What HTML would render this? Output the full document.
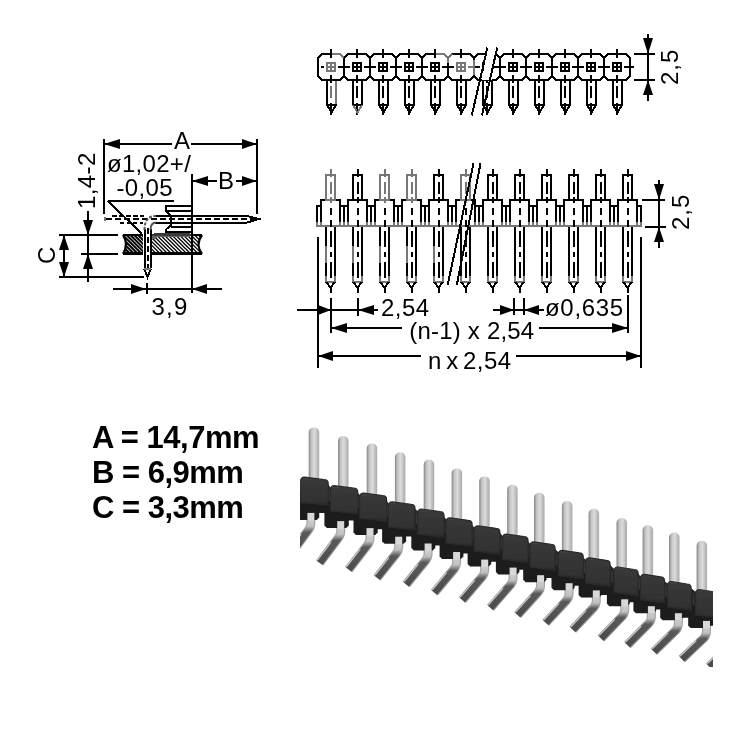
<!DOCTYPE html>
<html><head><meta charset="utf-8"><style>
html,body{margin:0;padding:0;background:#fff;width:732px;height:732px;overflow:hidden}
svg{position:absolute;left:0;top:0}
body{filter:grayscale(1)}
text{font-family:"Liberation Sans",sans-serif}
.t{position:absolute;left:92px;font:bold 31px "Liberation Sans",sans-serif;letter-spacing:-0.5px;white-space:pre;line-height:35px}
</style></head><body>
<svg width="732" height="732" viewBox="0 0 732 732" shape-rendering="crispEdges">
<polygon points="318.00,58.00 322.00,54.00 340.00,54.00 344.00,58.00 344.00,76.00 340.00,80.00 322.00,80.00 318.00,76.00" fill="none" stroke="#000" stroke-width="2" stroke-linejoin="miter"/>
<rect x="327" y="63" width="8" height="8" fill="none" stroke="#000" stroke-width="2"/>
<line x1="331" y1="63" x2="331" y2="71" stroke="#000" stroke-width="2" />
<line x1="327" y1="67" x2="335" y2="67" stroke="#000" stroke-width="2" />
<line x1="331" y1="49" x2="331" y2="58" stroke="#000" stroke-width="2" />
<line x1="331" y1="75" x2="331" y2="83" stroke="#000" stroke-width="2" />
<line x1="338" y1="67" x2="350" y2="67" stroke="#000" stroke-width="2" />
<line x1="321" y1="67" x2="324" y2="67" stroke="#000" stroke-width="2" />
<line x1="327" y1="80" x2="327" y2="106" stroke="#000" stroke-width="2" />
<line x1="336" y1="80" x2="336" y2="106" stroke="#000" stroke-width="2" />
<line x1="331" y1="86" x2="331" y2="98" stroke="#000" stroke-width="2" />
<line x1="331" y1="103" x2="331" y2="115" stroke="#000" stroke-width="2" />
<polyline points="327.00,105.00 331.50,112.50 336.00,105.00" fill="none" stroke="#000" stroke-width="2" />
<line x1="326" y1="105" x2="337" y2="105" stroke="#000" stroke-width="2" />
<polygon points="344.00,58.00 348.00,54.00 366.00,54.00 370.00,58.00 370.00,76.00 366.00,80.00 348.00,80.00 344.00,76.00" fill="none" stroke="#000" stroke-width="2" stroke-linejoin="miter"/>
<rect x="353" y="63" width="8" height="8" fill="none" stroke="#000" stroke-width="2"/>
<line x1="357" y1="63" x2="357" y2="71" stroke="#000" stroke-width="2" />
<line x1="353" y1="67" x2="361" y2="67" stroke="#000" stroke-width="2" />
<line x1="357" y1="49" x2="357" y2="58" stroke="#000" stroke-width="2" />
<line x1="357" y1="75" x2="357" y2="83" stroke="#000" stroke-width="2" />
<line x1="364" y1="67" x2="376" y2="67" stroke="#000" stroke-width="2" />
<line x1="353" y1="80" x2="353" y2="106" stroke="#000" stroke-width="2" />
<line x1="362" y1="80" x2="362" y2="106" stroke="#000" stroke-width="2" />
<line x1="357" y1="86" x2="357" y2="98" stroke="#000" stroke-width="2" />
<line x1="357" y1="103" x2="357" y2="115" stroke="#000" stroke-width="2" />
<polyline points="353.00,105.00 357.50,112.50 362.00,105.00" fill="none" stroke="#000" stroke-width="2" />
<line x1="352" y1="105" x2="363" y2="105" stroke="#000" stroke-width="2" />
<polygon points="370.00,58.00 374.00,54.00 392.00,54.00 396.00,58.00 396.00,76.00 392.00,80.00 374.00,80.00 370.00,76.00" fill="none" stroke="#000" stroke-width="2" stroke-linejoin="miter"/>
<rect x="379" y="63" width="8" height="8" fill="none" stroke="#000" stroke-width="2"/>
<line x1="383" y1="63" x2="383" y2="71" stroke="#000" stroke-width="2" />
<line x1="379" y1="67" x2="387" y2="67" stroke="#000" stroke-width="2" />
<line x1="383" y1="49" x2="383" y2="58" stroke="#000" stroke-width="2" />
<line x1="383" y1="75" x2="383" y2="83" stroke="#000" stroke-width="2" />
<line x1="390" y1="67" x2="402" y2="67" stroke="#000" stroke-width="2" />
<line x1="379" y1="80" x2="379" y2="106" stroke="#000" stroke-width="2" />
<line x1="388" y1="80" x2="388" y2="106" stroke="#000" stroke-width="2" />
<line x1="383" y1="86" x2="383" y2="98" stroke="#000" stroke-width="2" />
<line x1="383" y1="103" x2="383" y2="115" stroke="#000" stroke-width="2" />
<polyline points="379.00,105.00 383.50,112.50 388.00,105.00" fill="none" stroke="#000" stroke-width="2" />
<line x1="378" y1="105" x2="389" y2="105" stroke="#000" stroke-width="2" />
<polygon points="396.00,58.00 400.00,54.00 418.00,54.00 422.00,58.00 422.00,76.00 418.00,80.00 400.00,80.00 396.00,76.00" fill="none" stroke="#000" stroke-width="2" stroke-linejoin="miter"/>
<rect x="405" y="63" width="8" height="8" fill="none" stroke="#000" stroke-width="2"/>
<line x1="409" y1="63" x2="409" y2="71" stroke="#000" stroke-width="2" />
<line x1="405" y1="67" x2="413" y2="67" stroke="#000" stroke-width="2" />
<line x1="409" y1="49" x2="409" y2="58" stroke="#000" stroke-width="2" />
<line x1="409" y1="75" x2="409" y2="83" stroke="#000" stroke-width="2" />
<line x1="416" y1="67" x2="428" y2="67" stroke="#000" stroke-width="2" />
<line x1="405" y1="80" x2="405" y2="106" stroke="#000" stroke-width="2" />
<line x1="414" y1="80" x2="414" y2="106" stroke="#000" stroke-width="2" />
<line x1="409" y1="86" x2="409" y2="98" stroke="#000" stroke-width="2" />
<line x1="409" y1="103" x2="409" y2="115" stroke="#000" stroke-width="2" />
<polyline points="405.00,105.00 409.50,112.50 414.00,105.00" fill="none" stroke="#000" stroke-width="2" />
<line x1="404" y1="105" x2="415" y2="105" stroke="#000" stroke-width="2" />
<polygon points="422.00,58.00 426.00,54.00 444.00,54.00 448.00,58.00 448.00,76.00 444.00,80.00 426.00,80.00 422.00,76.00" fill="none" stroke="#000" stroke-width="2" stroke-linejoin="miter"/>
<rect x="431" y="63" width="8" height="8" fill="none" stroke="#000" stroke-width="2"/>
<line x1="435" y1="63" x2="435" y2="71" stroke="#000" stroke-width="2" />
<line x1="431" y1="67" x2="439" y2="67" stroke="#000" stroke-width="2" />
<line x1="435" y1="49" x2="435" y2="58" stroke="#000" stroke-width="2" />
<line x1="435" y1="75" x2="435" y2="83" stroke="#000" stroke-width="2" />
<line x1="442" y1="67" x2="454" y2="67" stroke="#000" stroke-width="2" />
<line x1="431" y1="80" x2="431" y2="106" stroke="#000" stroke-width="2" />
<line x1="440" y1="80" x2="440" y2="106" stroke="#000" stroke-width="2" />
<line x1="435" y1="86" x2="435" y2="98" stroke="#000" stroke-width="2" />
<line x1="435" y1="103" x2="435" y2="115" stroke="#000" stroke-width="2" />
<polyline points="431.00,105.00 435.50,112.50 440.00,105.00" fill="none" stroke="#000" stroke-width="2" />
<line x1="430" y1="105" x2="441" y2="105" stroke="#000" stroke-width="2" />
<polygon points="448.00,58.00 452.00,54.00 470.00,54.00 474.00,58.00 474.00,76.00 470.00,80.00 452.00,80.00 448.00,76.00" fill="none" stroke="#000" stroke-width="2" stroke-linejoin="miter"/>
<rect x="457" y="63" width="8" height="8" fill="none" stroke="#000" stroke-width="2"/>
<line x1="461" y1="63" x2="461" y2="71" stroke="#000" stroke-width="2" />
<line x1="457" y1="67" x2="465" y2="67" stroke="#000" stroke-width="2" />
<line x1="461" y1="49" x2="461" y2="58" stroke="#000" stroke-width="2" />
<line x1="461" y1="75" x2="461" y2="83" stroke="#000" stroke-width="2" />
<line x1="468" y1="67" x2="480" y2="67" stroke="#000" stroke-width="2" />
<line x1="457" y1="80" x2="457" y2="106" stroke="#000" stroke-width="2" />
<line x1="466" y1="80" x2="466" y2="106" stroke="#000" stroke-width="2" />
<line x1="461" y1="86" x2="461" y2="98" stroke="#000" stroke-width="2" />
<line x1="461" y1="103" x2="461" y2="115" stroke="#000" stroke-width="2" />
<polyline points="457.00,105.00 461.50,112.50 466.00,105.00" fill="none" stroke="#000" stroke-width="2" />
<line x1="456" y1="105" x2="467" y2="105" stroke="#000" stroke-width="2" />
<polygon points="474.00,58.00 478.00,54.00 496.00,54.00 500.00,58.00 500.00,76.00 496.00,80.00 478.00,80.00 474.00,76.00" fill="none" stroke="#000" stroke-width="2" stroke-linejoin="miter"/>
<rect x="483" y="63" width="8" height="8" fill="none" stroke="#000" stroke-width="2"/>
<line x1="487" y1="63" x2="487" y2="71" stroke="#000" stroke-width="2" />
<line x1="483" y1="67" x2="491" y2="67" stroke="#000" stroke-width="2" />
<line x1="487" y1="49" x2="487" y2="58" stroke="#000" stroke-width="2" />
<line x1="487" y1="75" x2="487" y2="83" stroke="#000" stroke-width="2" />
<line x1="494" y1="67" x2="506" y2="67" stroke="#000" stroke-width="2" />
<line x1="483" y1="80" x2="483" y2="106" stroke="#000" stroke-width="2" />
<line x1="492" y1="80" x2="492" y2="106" stroke="#000" stroke-width="2" />
<line x1="487" y1="86" x2="487" y2="98" stroke="#000" stroke-width="2" />
<line x1="487" y1="103" x2="487" y2="115" stroke="#000" stroke-width="2" />
<polyline points="483.00,105.00 487.50,112.50 492.00,105.00" fill="none" stroke="#000" stroke-width="2" />
<line x1="482" y1="105" x2="493" y2="105" stroke="#000" stroke-width="2" />
<polygon points="500.00,58.00 504.00,54.00 522.00,54.00 526.00,58.00 526.00,76.00 522.00,80.00 504.00,80.00 500.00,76.00" fill="none" stroke="#000" stroke-width="2" stroke-linejoin="miter"/>
<rect x="509" y="63" width="8" height="8" fill="none" stroke="#000" stroke-width="2"/>
<line x1="513" y1="63" x2="513" y2="71" stroke="#000" stroke-width="2" />
<line x1="509" y1="67" x2="517" y2="67" stroke="#000" stroke-width="2" />
<line x1="513" y1="49" x2="513" y2="58" stroke="#000" stroke-width="2" />
<line x1="513" y1="75" x2="513" y2="83" stroke="#000" stroke-width="2" />
<line x1="520" y1="67" x2="532" y2="67" stroke="#000" stroke-width="2" />
<line x1="509" y1="80" x2="509" y2="106" stroke="#000" stroke-width="2" />
<line x1="518" y1="80" x2="518" y2="106" stroke="#000" stroke-width="2" />
<line x1="513" y1="86" x2="513" y2="98" stroke="#000" stroke-width="2" />
<line x1="513" y1="103" x2="513" y2="115" stroke="#000" stroke-width="2" />
<polyline points="509.00,105.00 513.50,112.50 518.00,105.00" fill="none" stroke="#000" stroke-width="2" />
<line x1="508" y1="105" x2="519" y2="105" stroke="#000" stroke-width="2" />
<polygon points="526.00,58.00 530.00,54.00 548.00,54.00 552.00,58.00 552.00,76.00 548.00,80.00 530.00,80.00 526.00,76.00" fill="none" stroke="#000" stroke-width="2" stroke-linejoin="miter"/>
<rect x="535" y="63" width="8" height="8" fill="none" stroke="#000" stroke-width="2"/>
<line x1="539" y1="63" x2="539" y2="71" stroke="#000" stroke-width="2" />
<line x1="535" y1="67" x2="543" y2="67" stroke="#000" stroke-width="2" />
<line x1="539" y1="49" x2="539" y2="58" stroke="#000" stroke-width="2" />
<line x1="539" y1="75" x2="539" y2="83" stroke="#000" stroke-width="2" />
<line x1="546" y1="67" x2="558" y2="67" stroke="#000" stroke-width="2" />
<line x1="535" y1="80" x2="535" y2="106" stroke="#000" stroke-width="2" />
<line x1="544" y1="80" x2="544" y2="106" stroke="#000" stroke-width="2" />
<line x1="539" y1="86" x2="539" y2="98" stroke="#000" stroke-width="2" />
<line x1="539" y1="103" x2="539" y2="115" stroke="#000" stroke-width="2" />
<polyline points="535.00,105.00 539.50,112.50 544.00,105.00" fill="none" stroke="#000" stroke-width="2" />
<line x1="534" y1="105" x2="545" y2="105" stroke="#000" stroke-width="2" />
<polygon points="552.00,58.00 556.00,54.00 574.00,54.00 578.00,58.00 578.00,76.00 574.00,80.00 556.00,80.00 552.00,76.00" fill="none" stroke="#000" stroke-width="2" stroke-linejoin="miter"/>
<rect x="561" y="63" width="8" height="8" fill="none" stroke="#000" stroke-width="2"/>
<line x1="565" y1="63" x2="565" y2="71" stroke="#000" stroke-width="2" />
<line x1="561" y1="67" x2="569" y2="67" stroke="#000" stroke-width="2" />
<line x1="565" y1="49" x2="565" y2="58" stroke="#000" stroke-width="2" />
<line x1="565" y1="75" x2="565" y2="83" stroke="#000" stroke-width="2" />
<line x1="572" y1="67" x2="584" y2="67" stroke="#000" stroke-width="2" />
<line x1="561" y1="80" x2="561" y2="106" stroke="#000" stroke-width="2" />
<line x1="570" y1="80" x2="570" y2="106" stroke="#000" stroke-width="2" />
<line x1="565" y1="86" x2="565" y2="98" stroke="#000" stroke-width="2" />
<line x1="565" y1="103" x2="565" y2="115" stroke="#000" stroke-width="2" />
<polyline points="561.00,105.00 565.50,112.50 570.00,105.00" fill="none" stroke="#000" stroke-width="2" />
<line x1="560" y1="105" x2="571" y2="105" stroke="#000" stroke-width="2" />
<polygon points="578.00,58.00 582.00,54.00 600.00,54.00 604.00,58.00 604.00,76.00 600.00,80.00 582.00,80.00 578.00,76.00" fill="none" stroke="#000" stroke-width="2" stroke-linejoin="miter"/>
<rect x="587" y="63" width="8" height="8" fill="none" stroke="#000" stroke-width="2"/>
<line x1="591" y1="63" x2="591" y2="71" stroke="#000" stroke-width="2" />
<line x1="587" y1="67" x2="595" y2="67" stroke="#000" stroke-width="2" />
<line x1="591" y1="49" x2="591" y2="58" stroke="#000" stroke-width="2" />
<line x1="591" y1="75" x2="591" y2="83" stroke="#000" stroke-width="2" />
<line x1="598" y1="67" x2="610" y2="67" stroke="#000" stroke-width="2" />
<line x1="587" y1="80" x2="587" y2="106" stroke="#000" stroke-width="2" />
<line x1="596" y1="80" x2="596" y2="106" stroke="#000" stroke-width="2" />
<line x1="591" y1="86" x2="591" y2="98" stroke="#000" stroke-width="2" />
<line x1="591" y1="103" x2="591" y2="115" stroke="#000" stroke-width="2" />
<polyline points="587.00,105.00 591.50,112.50 596.00,105.00" fill="none" stroke="#000" stroke-width="2" />
<line x1="586" y1="105" x2="597" y2="105" stroke="#000" stroke-width="2" />
<polygon points="604.00,58.00 608.00,54.00 626.00,54.00 630.00,58.00 630.00,76.00 626.00,80.00 608.00,80.00 604.00,76.00" fill="none" stroke="#000" stroke-width="2" stroke-linejoin="miter"/>
<rect x="613" y="63" width="8" height="8" fill="none" stroke="#000" stroke-width="2"/>
<line x1="617" y1="63" x2="617" y2="71" stroke="#000" stroke-width="2" />
<line x1="613" y1="67" x2="621" y2="67" stroke="#000" stroke-width="2" />
<line x1="617" y1="49" x2="617" y2="58" stroke="#000" stroke-width="2" />
<line x1="617" y1="75" x2="617" y2="83" stroke="#000" stroke-width="2" />
<line x1="624" y1="67" x2="634" y2="67" stroke="#000" stroke-width="2" />
<line x1="613" y1="80" x2="613" y2="106" stroke="#000" stroke-width="2" />
<line x1="622" y1="80" x2="622" y2="106" stroke="#000" stroke-width="2" />
<line x1="617" y1="86" x2="617" y2="98" stroke="#000" stroke-width="2" />
<line x1="617" y1="103" x2="617" y2="115" stroke="#000" stroke-width="2" />
<polyline points="613.00,105.00 617.50,112.50 622.00,105.00" fill="none" stroke="#000" stroke-width="2" />
<line x1="612" y1="105" x2="623" y2="105" stroke="#000" stroke-width="2" />
<polyline points="332.00,54.00 340.00,54.00 344.00,58.00" fill="none" stroke="#777" stroke-width="2" />
<rect x="327" y="63" width="8" height="8" fill="none" stroke="#777" stroke-width="2"/>
<line x1="331" y1="63" x2="331" y2="71" stroke="#777" stroke-width="2" />
<line x1="327" y1="67" x2="335" y2="67" stroke="#777" stroke-width="2" />
<line x1="336" y1="81" x2="336" y2="104" stroke="#777" stroke-width="2" />
<line x1="331" y1="86" x2="331" y2="98" stroke="#777" stroke-width="2" />
<polyline points="353.00,105.00 357.50,112.50 362.00,105.00" fill="none" stroke="#777" stroke-width="2" />
<polyline points="436.00,54.00 444.00,54.00 448.00,58.00 452.00,54.00" fill="none" stroke="#777" stroke-width="2" />
<line x1="448" y1="58" x2="448" y2="63" stroke="#777" stroke-width="2" />
<rect x="457" y="63" width="8" height="8" fill="none" stroke="#777" stroke-width="2"/>
<line x1="461" y1="63" x2="461" y2="71" stroke="#777" stroke-width="2" />
<line x1="457" y1="67" x2="465" y2="67" stroke="#777" stroke-width="2" />
<line x1="468" y1="67" x2="473" y2="67" stroke="#777" stroke-width="2" />
<line x1="474" y1="60" x2="474" y2="75" stroke="#777" stroke-width="2" />
<polygon points="487.40,47.60 497.20,47.60 491.50,80.00 482.00,80.00" fill="#fff" stroke="none" stroke-width="0" />
<line x1="487.4" y1="47.6" x2="471.8" y2="115.4" stroke="#000" stroke-width="2" />
<line x1="497.2" y1="47.6" x2="481.9" y2="115.4" stroke="#000" stroke-width="2" />
<line x1="634" y1="54" x2="655" y2="54" stroke="#000" stroke-width="2" />
<line x1="634" y1="80" x2="655" y2="80" stroke="#000" stroke-width="2" />
<line x1="648" y1="34" x2="648" y2="101" stroke="#000" stroke-width="2" />
<polygon points="648.00,54.00 643.00,38.00 653.00,38.00" fill="#000" stroke="none" stroke-width="0" shape-rendering="geometricPrecision"/>
<polygon points="648.00,80.00 643.00,95.00 653.00,95.00" fill="#000" stroke="none" stroke-width="0" shape-rendering="geometricPrecision"/>
<text transform="translate(678,85) rotate(-90)" x="0" y="0" font-size="24" fill="#000" letter-spacing="1">2,5</text>
<polyline points="317.00,226.00 317.00,206.00 321.00,206.00 321.00,200.00 340.00,200.00 340.00,206.00 348.00,206.00 348.00,200.00 367.00,200.00 367.00,206.00 375.00,206.00 375.00,200.00 394.00,200.00 394.00,206.00 402.00,206.00 402.00,200.00 421.00,200.00 421.00,206.00 429.00,206.00 429.00,200.00 448.00,200.00 448.00,206.00 456.00,206.00 456.00,200.00 475.00,200.00 475.00,206.00 483.00,206.00 483.00,200.00 502.00,200.00 502.00,206.00 510.00,206.00 510.00,200.00 529.00,200.00 529.00,206.00 537.00,206.00 537.00,200.00 556.00,200.00 556.00,206.00 564.00,206.00 564.00,200.00 583.00,200.00 583.00,206.00 591.00,206.00 591.00,200.00 610.00,200.00 610.00,206.00 618.00,206.00 618.00,200.00 637.00,200.00 637.00,206.00 641.00,206.00 641.00,226.00" fill="none" stroke="#000" stroke-width="2" stroke-linejoin="miter"/>
<line x1="316" y1="226" x2="642" y2="226" stroke="#777" stroke-width="2" />
<line x1="344" y1="206" x2="344" y2="222" stroke="#000" stroke-width="2" />
<line x1="321" y1="205" x2="321" y2="222" stroke="#000" stroke-width="2" />
<line x1="340" y1="205" x2="340" y2="222" stroke="#000" stroke-width="2" />
<rect x="326" y="175" width="9" height="25" fill="none" stroke="#000" stroke-width="2"/>
<line x1="331" y1="169" x2="331" y2="177" stroke="#000" stroke-width="2" />
<line x1="331" y1="182" x2="331" y2="194" stroke="#000" stroke-width="2" />
<line x1="331" y1="197" x2="331" y2="203" stroke="#000" stroke-width="2" />
<line x1="331" y1="208" x2="331" y2="215" stroke="#000" stroke-width="2" />
<line x1="331" y1="220" x2="331" y2="227" stroke="#000" stroke-width="2" />
<line x1="326" y1="227" x2="326" y2="282" stroke="#000" stroke-width="2" />
<line x1="335" y1="227" x2="335" y2="282" stroke="#000" stroke-width="2" />
<line x1="331" y1="231" x2="331" y2="281" stroke="#000" stroke-width="2" stroke-dasharray="16,5,5,5"/>
<line x1="325" y1="281.5" x2="336" y2="281.5" stroke="#777" stroke-width="2" />
<polyline points="326.00,282.00 330.50,287.50 335.00,282.00" fill="none" stroke="#000" stroke-width="2" />
<line x1="331" y1="286" x2="331" y2="293" stroke="#000" stroke-width="2" />
<line x1="371" y1="206" x2="371" y2="222" stroke="#000" stroke-width="2" />
<line x1="348" y1="205" x2="348" y2="222" stroke="#000" stroke-width="2" />
<line x1="367" y1="205" x2="367" y2="222" stroke="#000" stroke-width="2" />
<rect x="353" y="175" width="9" height="25" fill="none" stroke="#000" stroke-width="2"/>
<line x1="358" y1="169" x2="358" y2="177" stroke="#000" stroke-width="2" />
<line x1="358" y1="182" x2="358" y2="194" stroke="#000" stroke-width="2" />
<line x1="358" y1="197" x2="358" y2="203" stroke="#000" stroke-width="2" />
<line x1="358" y1="208" x2="358" y2="215" stroke="#000" stroke-width="2" />
<line x1="358" y1="220" x2="358" y2="227" stroke="#000" stroke-width="2" />
<line x1="353" y1="227" x2="353" y2="282" stroke="#000" stroke-width="2" />
<line x1="362" y1="227" x2="362" y2="282" stroke="#000" stroke-width="2" />
<line x1="358" y1="231" x2="358" y2="281" stroke="#000" stroke-width="2" stroke-dasharray="16,5,5,5"/>
<line x1="352" y1="281.5" x2="363" y2="281.5" stroke="#777" stroke-width="2" />
<polyline points="353.00,282.00 357.50,287.50 362.00,282.00" fill="none" stroke="#000" stroke-width="2" />
<line x1="358" y1="286" x2="358" y2="293" stroke="#000" stroke-width="2" />
<line x1="398" y1="206" x2="398" y2="222" stroke="#000" stroke-width="2" />
<line x1="375" y1="205" x2="375" y2="222" stroke="#000" stroke-width="2" />
<line x1="394" y1="205" x2="394" y2="222" stroke="#000" stroke-width="2" />
<rect x="380" y="175" width="9" height="25" fill="none" stroke="#000" stroke-width="2"/>
<line x1="385" y1="169" x2="385" y2="177" stroke="#000" stroke-width="2" />
<line x1="385" y1="182" x2="385" y2="194" stroke="#000" stroke-width="2" />
<line x1="385" y1="197" x2="385" y2="203" stroke="#000" stroke-width="2" />
<line x1="385" y1="208" x2="385" y2="215" stroke="#000" stroke-width="2" />
<line x1="385" y1="220" x2="385" y2="227" stroke="#000" stroke-width="2" />
<line x1="380" y1="227" x2="380" y2="282" stroke="#000" stroke-width="2" />
<line x1="389" y1="227" x2="389" y2="282" stroke="#000" stroke-width="2" />
<line x1="385" y1="231" x2="385" y2="281" stroke="#000" stroke-width="2" stroke-dasharray="16,5,5,5"/>
<line x1="379" y1="281.5" x2="390" y2="281.5" stroke="#777" stroke-width="2" />
<polyline points="380.00,282.00 384.50,287.50 389.00,282.00" fill="none" stroke="#000" stroke-width="2" />
<line x1="385" y1="286" x2="385" y2="293" stroke="#000" stroke-width="2" />
<line x1="425" y1="206" x2="425" y2="222" stroke="#000" stroke-width="2" />
<line x1="402" y1="205" x2="402" y2="222" stroke="#000" stroke-width="2" />
<line x1="421" y1="205" x2="421" y2="222" stroke="#000" stroke-width="2" />
<rect x="407" y="175" width="9" height="25" fill="none" stroke="#000" stroke-width="2"/>
<line x1="412" y1="169" x2="412" y2="177" stroke="#000" stroke-width="2" />
<line x1="412" y1="182" x2="412" y2="194" stroke="#000" stroke-width="2" />
<line x1="412" y1="197" x2="412" y2="203" stroke="#000" stroke-width="2" />
<line x1="412" y1="208" x2="412" y2="215" stroke="#000" stroke-width="2" />
<line x1="412" y1="220" x2="412" y2="227" stroke="#000" stroke-width="2" />
<line x1="407" y1="227" x2="407" y2="282" stroke="#000" stroke-width="2" />
<line x1="416" y1="227" x2="416" y2="282" stroke="#000" stroke-width="2" />
<line x1="412" y1="231" x2="412" y2="281" stroke="#000" stroke-width="2" stroke-dasharray="16,5,5,5"/>
<line x1="406" y1="281.5" x2="417" y2="281.5" stroke="#777" stroke-width="2" />
<polyline points="407.00,282.00 411.50,287.50 416.00,282.00" fill="none" stroke="#000" stroke-width="2" />
<line x1="412" y1="286" x2="412" y2="293" stroke="#000" stroke-width="2" />
<line x1="452" y1="206" x2="452" y2="222" stroke="#000" stroke-width="2" />
<line x1="429" y1="205" x2="429" y2="222" stroke="#000" stroke-width="2" />
<line x1="448" y1="205" x2="448" y2="222" stroke="#000" stroke-width="2" />
<rect x="434" y="175" width="9" height="25" fill="none" stroke="#000" stroke-width="2"/>
<line x1="439" y1="169" x2="439" y2="177" stroke="#000" stroke-width="2" />
<line x1="439" y1="182" x2="439" y2="194" stroke="#000" stroke-width="2" />
<line x1="439" y1="197" x2="439" y2="203" stroke="#000" stroke-width="2" />
<line x1="439" y1="208" x2="439" y2="215" stroke="#000" stroke-width="2" />
<line x1="439" y1="220" x2="439" y2="227" stroke="#000" stroke-width="2" />
<line x1="434" y1="227" x2="434" y2="282" stroke="#000" stroke-width="2" />
<line x1="443" y1="227" x2="443" y2="282" stroke="#000" stroke-width="2" />
<line x1="439" y1="231" x2="439" y2="281" stroke="#000" stroke-width="2" stroke-dasharray="16,5,5,5"/>
<line x1="433" y1="281.5" x2="444" y2="281.5" stroke="#777" stroke-width="2" />
<polyline points="434.00,282.00 438.50,287.50 443.00,282.00" fill="none" stroke="#000" stroke-width="2" />
<line x1="439" y1="286" x2="439" y2="293" stroke="#000" stroke-width="2" />
<line x1="479" y1="206" x2="479" y2="222" stroke="#000" stroke-width="2" />
<line x1="456" y1="205" x2="456" y2="222" stroke="#000" stroke-width="2" />
<line x1="475" y1="205" x2="475" y2="222" stroke="#000" stroke-width="2" />
<rect x="461" y="175" width="9" height="25" fill="none" stroke="#000" stroke-width="2"/>
<line x1="466" y1="169" x2="466" y2="177" stroke="#000" stroke-width="2" />
<line x1="466" y1="182" x2="466" y2="194" stroke="#000" stroke-width="2" />
<line x1="466" y1="197" x2="466" y2="203" stroke="#000" stroke-width="2" />
<line x1="466" y1="208" x2="466" y2="215" stroke="#000" stroke-width="2" />
<line x1="466" y1="220" x2="466" y2="227" stroke="#000" stroke-width="2" />
<line x1="461" y1="227" x2="461" y2="282" stroke="#000" stroke-width="2" />
<line x1="470" y1="227" x2="470" y2="282" stroke="#000" stroke-width="2" />
<line x1="466" y1="231" x2="466" y2="281" stroke="#000" stroke-width="2" stroke-dasharray="16,5,5,5"/>
<line x1="460" y1="281.5" x2="471" y2="281.5" stroke="#777" stroke-width="2" />
<polyline points="461.00,282.00 465.50,287.50 470.00,282.00" fill="none" stroke="#000" stroke-width="2" />
<line x1="466" y1="286" x2="466" y2="293" stroke="#000" stroke-width="2" />
<line x1="506" y1="206" x2="506" y2="222" stroke="#000" stroke-width="2" />
<line x1="483" y1="205" x2="483" y2="222" stroke="#000" stroke-width="2" />
<line x1="502" y1="205" x2="502" y2="222" stroke="#000" stroke-width="2" />
<rect x="488" y="175" width="9" height="25" fill="none" stroke="#000" stroke-width="2"/>
<line x1="493" y1="169" x2="493" y2="177" stroke="#000" stroke-width="2" />
<line x1="493" y1="182" x2="493" y2="194" stroke="#000" stroke-width="2" />
<line x1="493" y1="197" x2="493" y2="203" stroke="#000" stroke-width="2" />
<line x1="493" y1="208" x2="493" y2="215" stroke="#000" stroke-width="2" />
<line x1="493" y1="220" x2="493" y2="227" stroke="#000" stroke-width="2" />
<line x1="488" y1="227" x2="488" y2="282" stroke="#000" stroke-width="2" />
<line x1="497" y1="227" x2="497" y2="282" stroke="#000" stroke-width="2" />
<line x1="493" y1="231" x2="493" y2="281" stroke="#000" stroke-width="2" stroke-dasharray="16,5,5,5"/>
<line x1="487" y1="281.5" x2="498" y2="281.5" stroke="#777" stroke-width="2" />
<polyline points="488.00,282.00 492.50,287.50 497.00,282.00" fill="none" stroke="#000" stroke-width="2" />
<line x1="493" y1="286" x2="493" y2="293" stroke="#000" stroke-width="2" />
<line x1="533" y1="206" x2="533" y2="222" stroke="#000" stroke-width="2" />
<line x1="510" y1="205" x2="510" y2="222" stroke="#000" stroke-width="2" />
<line x1="529" y1="205" x2="529" y2="222" stroke="#000" stroke-width="2" />
<rect x="515" y="175" width="9" height="25" fill="none" stroke="#000" stroke-width="2"/>
<line x1="520" y1="169" x2="520" y2="177" stroke="#000" stroke-width="2" />
<line x1="520" y1="182" x2="520" y2="194" stroke="#000" stroke-width="2" />
<line x1="520" y1="197" x2="520" y2="203" stroke="#000" stroke-width="2" />
<line x1="520" y1="208" x2="520" y2="215" stroke="#000" stroke-width="2" />
<line x1="520" y1="220" x2="520" y2="227" stroke="#000" stroke-width="2" />
<line x1="515" y1="227" x2="515" y2="282" stroke="#000" stroke-width="2" />
<line x1="524" y1="227" x2="524" y2="282" stroke="#000" stroke-width="2" />
<line x1="520" y1="231" x2="520" y2="281" stroke="#000" stroke-width="2" stroke-dasharray="16,5,5,5"/>
<line x1="514" y1="281.5" x2="525" y2="281.5" stroke="#777" stroke-width="2" />
<polyline points="515.00,282.00 519.50,287.50 524.00,282.00" fill="none" stroke="#000" stroke-width="2" />
<line x1="520" y1="286" x2="520" y2="293" stroke="#000" stroke-width="2" />
<line x1="560" y1="206" x2="560" y2="222" stroke="#000" stroke-width="2" />
<line x1="537" y1="205" x2="537" y2="222" stroke="#000" stroke-width="2" />
<line x1="556" y1="205" x2="556" y2="222" stroke="#000" stroke-width="2" />
<rect x="542" y="175" width="9" height="25" fill="none" stroke="#000" stroke-width="2"/>
<line x1="547" y1="169" x2="547" y2="177" stroke="#000" stroke-width="2" />
<line x1="547" y1="182" x2="547" y2="194" stroke="#000" stroke-width="2" />
<line x1="547" y1="197" x2="547" y2="203" stroke="#000" stroke-width="2" />
<line x1="547" y1="208" x2="547" y2="215" stroke="#000" stroke-width="2" />
<line x1="547" y1="220" x2="547" y2="227" stroke="#000" stroke-width="2" />
<line x1="542" y1="227" x2="542" y2="282" stroke="#000" stroke-width="2" />
<line x1="551" y1="227" x2="551" y2="282" stroke="#000" stroke-width="2" />
<line x1="547" y1="231" x2="547" y2="281" stroke="#000" stroke-width="2" stroke-dasharray="16,5,5,5"/>
<line x1="541" y1="281.5" x2="552" y2="281.5" stroke="#777" stroke-width="2" />
<polyline points="542.00,282.00 546.50,287.50 551.00,282.00" fill="none" stroke="#000" stroke-width="2" />
<line x1="547" y1="286" x2="547" y2="293" stroke="#000" stroke-width="2" />
<line x1="587" y1="206" x2="587" y2="222" stroke="#000" stroke-width="2" />
<line x1="564" y1="205" x2="564" y2="222" stroke="#000" stroke-width="2" />
<line x1="583" y1="205" x2="583" y2="222" stroke="#000" stroke-width="2" />
<rect x="569" y="175" width="9" height="25" fill="none" stroke="#000" stroke-width="2"/>
<line x1="574" y1="169" x2="574" y2="177" stroke="#000" stroke-width="2" />
<line x1="574" y1="182" x2="574" y2="194" stroke="#000" stroke-width="2" />
<line x1="574" y1="197" x2="574" y2="203" stroke="#000" stroke-width="2" />
<line x1="574" y1="208" x2="574" y2="215" stroke="#000" stroke-width="2" />
<line x1="574" y1="220" x2="574" y2="227" stroke="#000" stroke-width="2" />
<line x1="569" y1="227" x2="569" y2="282" stroke="#000" stroke-width="2" />
<line x1="578" y1="227" x2="578" y2="282" stroke="#000" stroke-width="2" />
<line x1="574" y1="231" x2="574" y2="281" stroke="#000" stroke-width="2" stroke-dasharray="16,5,5,5"/>
<line x1="568" y1="281.5" x2="579" y2="281.5" stroke="#777" stroke-width="2" />
<polyline points="569.00,282.00 573.50,287.50 578.00,282.00" fill="none" stroke="#000" stroke-width="2" />
<line x1="574" y1="286" x2="574" y2="293" stroke="#000" stroke-width="2" />
<line x1="614" y1="206" x2="614" y2="222" stroke="#000" stroke-width="2" />
<line x1="591" y1="205" x2="591" y2="222" stroke="#000" stroke-width="2" />
<line x1="610" y1="205" x2="610" y2="222" stroke="#000" stroke-width="2" />
<rect x="596" y="175" width="9" height="25" fill="none" stroke="#000" stroke-width="2"/>
<line x1="601" y1="169" x2="601" y2="177" stroke="#000" stroke-width="2" />
<line x1="601" y1="182" x2="601" y2="194" stroke="#000" stroke-width="2" />
<line x1="601" y1="197" x2="601" y2="203" stroke="#000" stroke-width="2" />
<line x1="601" y1="208" x2="601" y2="215" stroke="#000" stroke-width="2" />
<line x1="601" y1="220" x2="601" y2="227" stroke="#000" stroke-width="2" />
<line x1="596" y1="227" x2="596" y2="282" stroke="#000" stroke-width="2" />
<line x1="605" y1="227" x2="605" y2="282" stroke="#000" stroke-width="2" />
<line x1="601" y1="231" x2="601" y2="281" stroke="#000" stroke-width="2" stroke-dasharray="16,5,5,5"/>
<line x1="595" y1="281.5" x2="606" y2="281.5" stroke="#777" stroke-width="2" />
<polyline points="596.00,282.00 600.50,287.50 605.00,282.00" fill="none" stroke="#000" stroke-width="2" />
<line x1="601" y1="286" x2="601" y2="293" stroke="#000" stroke-width="2" />
<line x1="618" y1="205" x2="618" y2="222" stroke="#000" stroke-width="2" />
<line x1="637" y1="205" x2="637" y2="222" stroke="#000" stroke-width="2" />
<rect x="623" y="175" width="9" height="25" fill="none" stroke="#000" stroke-width="2"/>
<line x1="628" y1="169" x2="628" y2="177" stroke="#000" stroke-width="2" />
<line x1="628" y1="182" x2="628" y2="194" stroke="#000" stroke-width="2" />
<line x1="628" y1="197" x2="628" y2="203" stroke="#000" stroke-width="2" />
<line x1="628" y1="208" x2="628" y2="215" stroke="#000" stroke-width="2" />
<line x1="628" y1="220" x2="628" y2="227" stroke="#000" stroke-width="2" />
<line x1="623" y1="227" x2="623" y2="282" stroke="#000" stroke-width="2" />
<line x1="632" y1="227" x2="632" y2="282" stroke="#000" stroke-width="2" />
<line x1="628" y1="231" x2="628" y2="281" stroke="#000" stroke-width="2" stroke-dasharray="16,5,5,5"/>
<line x1="622" y1="281.5" x2="633" y2="281.5" stroke="#777" stroke-width="2" />
<polyline points="623.00,282.00 627.50,287.50 632.00,282.00" fill="none" stroke="#000" stroke-width="2" />
<line x1="628" y1="286" x2="628" y2="293" stroke="#000" stroke-width="2" />
<line x1="326" y1="276" x2="326" y2="281" stroke="#777" stroke-width="2" />
<line x1="335" y1="276" x2="335" y2="281" stroke="#777" stroke-width="2" />
<line x1="326" y1="246" x2="326" y2="263" stroke="#777" stroke-width="2" />
<line x1="353" y1="276" x2="353" y2="281" stroke="#777" stroke-width="2" />
<line x1="362" y1="276" x2="362" y2="281" stroke="#777" stroke-width="2" />
<line x1="353" y1="246" x2="353" y2="263" stroke="#777" stroke-width="2" />
<line x1="380" y1="276" x2="380" y2="281" stroke="#777" stroke-width="2" />
<line x1="389" y1="276" x2="389" y2="281" stroke="#777" stroke-width="2" />
<line x1="380" y1="246" x2="380" y2="263" stroke="#777" stroke-width="2" />
<line x1="407" y1="276" x2="407" y2="281" stroke="#777" stroke-width="2" />
<line x1="416" y1="276" x2="416" y2="281" stroke="#777" stroke-width="2" />
<line x1="407" y1="246" x2="407" y2="263" stroke="#777" stroke-width="2" />
<line x1="434" y1="276" x2="434" y2="281" stroke="#777" stroke-width="2" />
<line x1="443" y1="276" x2="443" y2="281" stroke="#777" stroke-width="2" />
<line x1="434" y1="246" x2="434" y2="263" stroke="#777" stroke-width="2" />
<line x1="461" y1="276" x2="461" y2="281" stroke="#777" stroke-width="2" />
<line x1="470" y1="276" x2="470" y2="281" stroke="#777" stroke-width="2" />
<line x1="488" y1="276" x2="488" y2="281" stroke="#777" stroke-width="2" />
<line x1="497" y1="276" x2="497" y2="281" stroke="#777" stroke-width="2" />
<line x1="515" y1="276" x2="515" y2="281" stroke="#777" stroke-width="2" />
<line x1="524" y1="276" x2="524" y2="281" stroke="#777" stroke-width="2" />
<line x1="542" y1="276" x2="542" y2="281" stroke="#777" stroke-width="2" />
<line x1="551" y1="276" x2="551" y2="281" stroke="#777" stroke-width="2" />
<line x1="569" y1="276" x2="569" y2="281" stroke="#777" stroke-width="2" />
<line x1="578" y1="276" x2="578" y2="281" stroke="#777" stroke-width="2" />
<line x1="596" y1="276" x2="596" y2="281" stroke="#777" stroke-width="2" />
<line x1="605" y1="276" x2="605" y2="281" stroke="#777" stroke-width="2" />
<line x1="623" y1="276" x2="623" y2="281" stroke="#777" stroke-width="2" />
<line x1="632" y1="276" x2="632" y2="281" stroke="#777" stroke-width="2" />
<rect x="326" y="175" width="9" height="25" fill="none" stroke="#777" stroke-width="2"/>
<line x1="331" y1="169" x2="331" y2="177" stroke="#777" stroke-width="2" />
<line x1="331" y1="182" x2="331" y2="194" stroke="#777" stroke-width="2" />
<line x1="331" y1="197" x2="331" y2="203" stroke="#777" stroke-width="2" />
<rect x="380" y="175" width="9" height="25" fill="none" stroke="#777" stroke-width="2"/>
<line x1="385" y1="169" x2="385" y2="177" stroke="#777" stroke-width="2" />
<line x1="385" y1="182" x2="385" y2="194" stroke="#777" stroke-width="2" />
<line x1="385" y1="197" x2="385" y2="203" stroke="#777" stroke-width="2" />
<rect x="407" y="175" width="9" height="25" fill="none" stroke="#777" stroke-width="2"/>
<line x1="412" y1="169" x2="412" y2="177" stroke="#777" stroke-width="2" />
<line x1="412" y1="182" x2="412" y2="194" stroke="#777" stroke-width="2" />
<line x1="412" y1="197" x2="412" y2="203" stroke="#777" stroke-width="2" />
<rect x="461" y="175" width="9" height="25" fill="none" stroke="#777" stroke-width="2"/>
<line x1="466" y1="169" x2="466" y2="177" stroke="#777" stroke-width="2" />
<line x1="466" y1="182" x2="466" y2="194" stroke="#777" stroke-width="2" />
<line x1="466" y1="197" x2="466" y2="203" stroke="#777" stroke-width="2" />
<line x1="461" y1="200" x2="470" y2="200" stroke="#777" stroke-width="2" />
<line x1="317" y1="222" x2="317" y2="226" stroke="#777" stroke-width="2" />
<line x1="641" y1="222" x2="641" y2="226" stroke="#777" stroke-width="2" />
<line x1="321" y1="222" x2="321" y2="226" stroke="#777" stroke-width="2" />
<line x1="348" y1="222" x2="348" y2="226" stroke="#777" stroke-width="2" />
<line x1="375" y1="222" x2="375" y2="226" stroke="#777" stroke-width="2" />
<line x1="402" y1="222" x2="402" y2="226" stroke="#777" stroke-width="2" />
<line x1="429" y1="222" x2="429" y2="226" stroke="#777" stroke-width="2" />
<line x1="456" y1="222" x2="456" y2="226" stroke="#777" stroke-width="2" />
<line x1="483" y1="222" x2="483" y2="226" stroke="#777" stroke-width="2" />
<line x1="510" y1="222" x2="510" y2="226" stroke="#777" stroke-width="2" />
<line x1="537" y1="222" x2="537" y2="226" stroke="#777" stroke-width="2" />
<line x1="564" y1="222" x2="564" y2="226" stroke="#777" stroke-width="2" />
<line x1="591" y1="222" x2="591" y2="226" stroke="#777" stroke-width="2" />
<line x1="618" y1="222" x2="618" y2="226" stroke="#777" stroke-width="2" />
<line x1="340" y1="222" x2="340" y2="226" stroke="#777" stroke-width="2" />
<line x1="367" y1="222" x2="367" y2="226" stroke="#777" stroke-width="2" />
<line x1="394" y1="222" x2="394" y2="226" stroke="#777" stroke-width="2" />
<line x1="421" y1="222" x2="421" y2="226" stroke="#777" stroke-width="2" />
<line x1="448" y1="222" x2="448" y2="226" stroke="#777" stroke-width="2" />
<line x1="475" y1="222" x2="475" y2="226" stroke="#777" stroke-width="2" />
<line x1="502" y1="222" x2="502" y2="226" stroke="#777" stroke-width="2" />
<line x1="529" y1="222" x2="529" y2="226" stroke="#777" stroke-width="2" />
<line x1="556" y1="222" x2="556" y2="226" stroke="#777" stroke-width="2" />
<line x1="583" y1="222" x2="583" y2="226" stroke="#777" stroke-width="2" />
<line x1="610" y1="222" x2="610" y2="226" stroke="#777" stroke-width="2" />
<line x1="637" y1="222" x2="637" y2="226" stroke="#777" stroke-width="2" />
<line x1="344" y1="222" x2="344" y2="226" stroke="#777" stroke-width="2" />
<line x1="371" y1="222" x2="371" y2="226" stroke="#777" stroke-width="2" />
<line x1="398" y1="222" x2="398" y2="226" stroke="#777" stroke-width="2" />
<line x1="425" y1="222" x2="425" y2="226" stroke="#777" stroke-width="2" />
<line x1="452" y1="222" x2="452" y2="226" stroke="#777" stroke-width="2" />
<line x1="479" y1="222" x2="479" y2="226" stroke="#777" stroke-width="2" />
<line x1="506" y1="222" x2="506" y2="226" stroke="#777" stroke-width="2" />
<line x1="533" y1="222" x2="533" y2="226" stroke="#777" stroke-width="2" />
<line x1="560" y1="222" x2="560" y2="226" stroke="#777" stroke-width="2" />
<line x1="587" y1="222" x2="587" y2="226" stroke="#777" stroke-width="2" />
<line x1="614" y1="222" x2="614" y2="226" stroke="#777" stroke-width="2" />
<line x1="473.6" y1="162.9" x2="447.6" y2="285.2" stroke="#000" stroke-width="2" />
<line x1="480.6" y1="162.9" x2="456.8" y2="285.2" stroke="#000" stroke-width="2" />
<line x1="642" y1="200" x2="665" y2="200" stroke="#000" stroke-width="2" />
<line x1="645" y1="227" x2="666" y2="227" stroke="#000" stroke-width="2" />
<line x1="659" y1="180" x2="659" y2="248" stroke="#000" stroke-width="2" />
<polygon points="659.00,200.00 654.00,184.00 664.00,184.00" fill="#000" stroke="none" stroke-width="0" shape-rendering="geometricPrecision"/>
<polygon points="659.00,227.00 654.00,242.00 664.00,242.00" fill="#000" stroke="none" stroke-width="0" shape-rendering="geometricPrecision"/>
<text transform="translate(689,230) rotate(-90)" x="0" y="0" font-size="24" fill="#000" letter-spacing="1">2,5</text>
<line x1="318" y1="237" x2="318" y2="368" stroke="#000" stroke-width="2" />
<line x1="641" y1="237" x2="641" y2="368" stroke="#000" stroke-width="2" />
<line x1="331" y1="298" x2="331" y2="333" stroke="#000" stroke-width="2" />
<line x1="358" y1="298" x2="358" y2="316" stroke="#000" stroke-width="2" />
<line x1="628" y1="295" x2="628" y2="333" stroke="#000" stroke-width="2" />
<line x1="297" y1="310" x2="378" y2="310" stroke="#000" stroke-width="2" />
<polygon points="331.00,310.00 318.00,305.00 318.00,315.00" fill="#000" stroke="none" stroke-width="0" shape-rendering="geometricPrecision"/>
<polygon points="358.00,310.00 374.00,305.00 374.00,315.00" fill="#000" stroke="none" stroke-width="0" shape-rendering="geometricPrecision"/>
<text x="381" y="316" font-size="24" text-anchor="start" font-weight="normal" fill="#000" letter-spacing="0.5" >2,54</text>
<line x1="514" y1="298" x2="514" y2="315" stroke="#000" stroke-width="2" />
<line x1="524" y1="298" x2="524" y2="315" stroke="#000" stroke-width="2" />
<line x1="493" y1="310" x2="544" y2="310" stroke="#000" stroke-width="2" />
<polygon points="514.00,310.00 500.00,305.00 500.00,315.00" fill="#000" stroke="none" stroke-width="0" shape-rendering="geometricPrecision"/>
<polygon points="524.00,310.00 539.00,305.00 539.00,315.00" fill="#000" stroke="none" stroke-width="0" shape-rendering="geometricPrecision"/>
<text x="545" y="316" font-size="24" text-anchor="start" font-weight="normal" fill="#000" letter-spacing="0.7" >ø0,635</text>
<line x1="331" y1="328" x2="402" y2="328" stroke="#000" stroke-width="2" />
<polygon points="331.00,328.00 347.00,323.00 347.00,333.00" fill="#000" stroke="none" stroke-width="0" shape-rendering="geometricPrecision"/>
<line x1="539" y1="328" x2="628" y2="328" stroke="#000" stroke-width="2" />
<polygon points="628.00,328.00 612.00,323.00 612.00,333.00" fill="#000" stroke="none" stroke-width="0" shape-rendering="geometricPrecision"/>
<text x="409.3" y="339" font-size="24" text-anchor="start" font-weight="normal" fill="#000" letter-spacing="0.2" >(n-1) x 2,54</text>
<line x1="318" y1="356" x2="421" y2="356" stroke="#000" stroke-width="2" />
<polygon points="318.00,356.00 333.00,351.00 333.00,361.00" fill="#000" stroke="none" stroke-width="0" shape-rendering="geometricPrecision"/>
<line x1="516" y1="356" x2="641" y2="356" stroke="#000" stroke-width="2" />
<polygon points="641.00,356.00 626.00,351.00 626.00,361.00" fill="#000" stroke="none" stroke-width="0" shape-rendering="geometricPrecision"/>
<text x="428" y="369" font-size="24" text-anchor="start" font-weight="normal" fill="#000" letter-spacing="0.4" word-spacing="-2.6">n x 2,54</text>
<line x1="104" y1="139" x2="104" y2="214" stroke="#000" stroke-width="2" />
<line x1="257" y1="139" x2="257" y2="214" stroke="#000" stroke-width="2" />
<line x1="104" y1="144" x2="172" y2="144" stroke="#000" stroke-width="2" />
<line x1="191" y1="144" x2="257" y2="144" stroke="#000" stroke-width="2" />
<polygon points="104.00,144.00 120.00,139.00 120.00,149.00" fill="#000" stroke="none" stroke-width="0" shape-rendering="geometricPrecision"/>
<polygon points="257.00,144.00 242.00,139.00 242.00,149.00" fill="#000" stroke="none" stroke-width="0" shape-rendering="geometricPrecision"/>
<text x="174" y="149" font-size="24" text-anchor="start" font-weight="normal" fill="#000" letter-spacing="0" >A</text>
<text x="107" y="172" font-size="24" text-anchor="start" font-weight="normal" fill="#000" letter-spacing="0.3" >ø1,02+/</text>
<text x="116.4" y="196" font-size="24" text-anchor="start" font-weight="normal" fill="#000" letter-spacing="0.4" >-0,05</text>
<line x1="108" y1="201" x2="174" y2="201" stroke="#000" stroke-width="2" />
<line x1="108" y1="201" x2="142" y2="234" stroke="#000" stroke-width="2" />
<line x1="192" y1="174" x2="192" y2="293" stroke="#000" stroke-width="2" />
<line x1="192" y1="181" x2="217" y2="181" stroke="#000" stroke-width="2" />
<line x1="236" y1="181" x2="257" y2="181" stroke="#000" stroke-width="2" />
<polygon points="192.00,181.00 208.00,176.00 208.00,186.00" fill="#000" stroke="none" stroke-width="0" shape-rendering="geometricPrecision"/>
<polygon points="257.00,181.00 242.00,176.00 242.00,186.00" fill="#000" stroke="none" stroke-width="0" shape-rendering="geometricPrecision"/>
<text x="218" y="189" font-size="24" text-anchor="start" font-weight="normal" fill="#000" letter-spacing="0" >B</text>
<clipPath id="pcbL"><path d="M123,235 L143,235 L143,254 L123,254 Q129,244.5 123,235 Z"/></clipPath>
<clipPath id="pcbR"><path d="M151,235 L202,235 Q195,244.5 202,254 L151,254 Z"/></clipPath>
<g clip-path="url(#pcbL)" shape-rendering="geometricPrecision"><line x1="100.0" y1="235" x2="119.0" y2="254" stroke="#000" stroke-width="2.0"/><line x1="103.8" y1="235" x2="122.8" y2="254" stroke="#000" stroke-width="2.0"/><line x1="107.6" y1="235" x2="126.6" y2="254" stroke="#000" stroke-width="2.0"/><line x1="111.4" y1="235" x2="130.4" y2="254" stroke="#000" stroke-width="2.0"/><line x1="115.2" y1="235" x2="134.2" y2="254" stroke="#000" stroke-width="2.0"/><line x1="119.0" y1="235" x2="138.0" y2="254" stroke="#000" stroke-width="2.0"/><line x1="122.8" y1="235" x2="141.8" y2="254" stroke="#000" stroke-width="2.0"/><line x1="126.6" y1="235" x2="145.6" y2="254" stroke="#000" stroke-width="2.0"/><line x1="130.4" y1="235" x2="149.4" y2="254" stroke="#000" stroke-width="2.0"/><line x1="134.2" y1="235" x2="153.2" y2="254" stroke="#000" stroke-width="2.0"/><line x1="138.0" y1="235" x2="157.0" y2="254" stroke="#000" stroke-width="2.0"/><line x1="141.8" y1="235" x2="160.8" y2="254" stroke="#000" stroke-width="2.0"/><line x1="145.6" y1="235" x2="164.6" y2="254" stroke="#000" stroke-width="2.0"/><line x1="149.4" y1="235" x2="168.4" y2="254" stroke="#000" stroke-width="2.0"/><line x1="153.2" y1="235" x2="172.2" y2="254" stroke="#000" stroke-width="2.0"/><line x1="157.0" y1="235" x2="176.0" y2="254" stroke="#000" stroke-width="2.0"/><line x1="160.8" y1="235" x2="179.8" y2="254" stroke="#000" stroke-width="2.0"/><line x1="164.6" y1="235" x2="183.6" y2="254" stroke="#000" stroke-width="2.0"/><line x1="168.39999999999998" y1="235" x2="187.39999999999998" y2="254" stroke="#000" stroke-width="2.0"/><line x1="172.2" y1="235" x2="191.2" y2="254" stroke="#000" stroke-width="2.0"/><line x1="176.0" y1="235" x2="195.0" y2="254" stroke="#000" stroke-width="2.0"/><line x1="179.8" y1="235" x2="198.8" y2="254" stroke="#000" stroke-width="2.0"/><line x1="183.6" y1="235" x2="202.6" y2="254" stroke="#000" stroke-width="2.0"/><line x1="187.39999999999998" y1="235" x2="206.39999999999998" y2="254" stroke="#000" stroke-width="2.0"/><line x1="191.2" y1="235" x2="210.2" y2="254" stroke="#000" stroke-width="2.0"/><line x1="195.0" y1="235" x2="214.0" y2="254" stroke="#000" stroke-width="2.0"/><line x1="198.8" y1="235" x2="217.8" y2="254" stroke="#000" stroke-width="2.0"/><line x1="202.6" y1="235" x2="221.6" y2="254" stroke="#000" stroke-width="2.0"/><line x1="206.39999999999998" y1="235" x2="225.39999999999998" y2="254" stroke="#000" stroke-width="2.0"/><line x1="210.2" y1="235" x2="229.2" y2="254" stroke="#000" stroke-width="2.0"/></g>
<g clip-path="url(#pcbR)" shape-rendering="geometricPrecision"><line x1="130.0" y1="235" x2="149.0" y2="254" stroke="#000" stroke-width="1.3"/><line x1="133.8" y1="235" x2="152.8" y2="254" stroke="#000" stroke-width="1.3"/><line x1="137.6" y1="235" x2="156.6" y2="254" stroke="#000" stroke-width="1.3"/><line x1="141.4" y1="235" x2="160.4" y2="254" stroke="#000" stroke-width="1.3"/><line x1="145.2" y1="235" x2="164.2" y2="254" stroke="#000" stroke-width="1.3"/><line x1="149.0" y1="235" x2="168.0" y2="254" stroke="#000" stroke-width="1.3"/><line x1="152.8" y1="235" x2="171.8" y2="254" stroke="#000" stroke-width="1.3"/><line x1="156.6" y1="235" x2="175.6" y2="254" stroke="#000" stroke-width="1.3"/><line x1="160.4" y1="235" x2="179.4" y2="254" stroke="#000" stroke-width="1.3"/><line x1="164.2" y1="235" x2="183.2" y2="254" stroke="#000" stroke-width="1.3"/><line x1="168.0" y1="235" x2="187.0" y2="254" stroke="#000" stroke-width="1.3"/><line x1="171.8" y1="235" x2="190.8" y2="254" stroke="#000" stroke-width="1.3"/><line x1="175.6" y1="235" x2="194.6" y2="254" stroke="#000" stroke-width="1.3"/><line x1="179.4" y1="235" x2="198.4" y2="254" stroke="#000" stroke-width="1.3"/><line x1="183.2" y1="235" x2="202.2" y2="254" stroke="#000" stroke-width="1.3"/><line x1="187.0" y1="235" x2="206.0" y2="254" stroke="#000" stroke-width="1.3"/><line x1="190.8" y1="235" x2="209.8" y2="254" stroke="#000" stroke-width="1.3"/><line x1="194.6" y1="235" x2="213.6" y2="254" stroke="#000" stroke-width="1.3"/><line x1="198.39999999999998" y1="235" x2="217.39999999999998" y2="254" stroke="#000" stroke-width="1.3"/><line x1="202.2" y1="235" x2="221.2" y2="254" stroke="#000" stroke-width="1.3"/><line x1="206.0" y1="235" x2="225.0" y2="254" stroke="#000" stroke-width="1.3"/><line x1="209.8" y1="235" x2="228.8" y2="254" stroke="#000" stroke-width="1.3"/><line x1="213.6" y1="235" x2="232.6" y2="254" stroke="#000" stroke-width="1.3"/><line x1="217.39999999999998" y1="235" x2="236.39999999999998" y2="254" stroke="#000" stroke-width="1.3"/><line x1="221.2" y1="235" x2="240.2" y2="254" stroke="#000" stroke-width="1.3"/><line x1="225.0" y1="235" x2="244.0" y2="254" stroke="#000" stroke-width="1.3"/><line x1="228.8" y1="235" x2="247.8" y2="254" stroke="#000" stroke-width="1.3"/><line x1="232.6" y1="235" x2="251.6" y2="254" stroke="#000" stroke-width="1.3"/><line x1="236.39999999999998" y1="235" x2="255.39999999999998" y2="254" stroke="#000" stroke-width="1.3"/><line x1="240.2" y1="235" x2="259.2" y2="254" stroke="#000" stroke-width="1.3"/></g>
<path d="M151,235 L151,243 Q153,237 162,236.5 L190,236.5 L190,235 Z" fill="#666"/>
<line x1="123" y1="235" x2="143" y2="235" stroke="#000" stroke-width="2.6" />
<line x1="123" y1="253.5" x2="143" y2="253.5" stroke="#000" stroke-width="2.6" />
<line x1="151" y1="235" x2="202" y2="235" stroke="#000" stroke-width="2.6" />
<line x1="151" y1="253.5" x2="202" y2="253.5" stroke="#000" stroke-width="2.6" />
<path d="M123,235 Q129,244.5 123,254" fill="none" stroke="#000" stroke-width="2.2" shape-rendering="geometricPrecision"/>
<path d="M202,235 Q195,244.5 202,254" fill="none" stroke="#000" stroke-width="2.2" shape-rendering="geometricPrecision"/>
<polyline points="191.00,206.00 166.00,206.00 166.00,211.00 191.00,211.00" fill="none" stroke="#000" stroke-width="2" />
<polyline points="166.00,211.00 171.00,215.50 171.00,225.00 166.00,229.50 166.00,232.00 191.00,232.00" fill="none" stroke="#000" stroke-width="2" />
<line x1="171" y1="227" x2="191" y2="227" stroke="#000" stroke-width="2" />
<path d="M150,236 Q153,232.5 160,232.5 L190,232.5 L191,236 Z" fill="#3a3a3a"/>
<line x1="155" y1="216" x2="247" y2="216" stroke="#000" stroke-width="2" />
<line x1="155" y1="222.5" x2="247" y2="222.5" stroke="#000" stroke-width="2" />
<polyline points="247.00,216.00 259.00,219.00 247.00,222.50" fill="none" stroke="#000" stroke-width="2" />
<line x1="106" y1="219" x2="258" y2="219" stroke="#000" stroke-width="2" stroke-dasharray="6,3"/>
<line x1="112" y1="216" x2="144" y2="216" stroke="#000" stroke-width="2" stroke-dasharray="4.5,2.5"/>
<line x1="120" y1="222.5" x2="143" y2="222.5" stroke="#000" stroke-width="2" stroke-dasharray="4,2.5"/>
<line x1="104.5" y1="217" x2="104.5" y2="221" stroke="#777" stroke-width="2" />
<line x1="144.5" y1="229" x2="144.5" y2="268" stroke="#000" stroke-width="2" />
<line x1="150.5" y1="229" x2="150.5" y2="268" stroke="#000" stroke-width="2" />
<path d="M144.5,230 Q144.5,216 156,216" fill="none" stroke="#555" stroke-width="2" stroke-dasharray="3,1.5" shape-rendering="geometricPrecision"/>
<path d="M150.5,230 Q150.5,222.5 156,222.5" fill="none" stroke="#555" stroke-width="2" shape-rendering="geometricPrecision"/>
<line x1="147.5" y1="228" x2="147.5" y2="268" stroke="#000" stroke-width="2" stroke-dasharray="6,3"/>
<polyline points="144.00,268.50 147.50,277.00 151.00,268.50" fill="none" stroke="#000" stroke-width="2" />
<line x1="144" y1="268.5" x2="151" y2="268.5" stroke="#777" stroke-width="2" />
<line x1="59" y1="235" x2="118" y2="235" stroke="#000" stroke-width="2" />
<line x1="81" y1="254" x2="118" y2="254" stroke="#000" stroke-width="2" />
<line x1="59" y1="277" x2="144" y2="277" stroke="#000" stroke-width="2" />
<line x1="64" y1="235" x2="64" y2="277" stroke="#000" stroke-width="2" />
<polygon points="64.00,235.00 59.00,250.00 69.00,250.00" fill="#000" stroke="none" stroke-width="0" shape-rendering="geometricPrecision"/>
<polygon points="64.00,277.00 59.00,262.00 69.00,262.00" fill="#000" stroke="none" stroke-width="0" shape-rendering="geometricPrecision"/>
<text transform="translate(55,264) rotate(-90)" x="0" y="0" font-size="24" fill="#000" letter-spacing="0">C</text>
<line x1="88" y1="211" x2="88" y2="282" stroke="#000" stroke-width="2" />
<polygon points="88.00,235.00 83.00,220.00 93.00,220.00" fill="#000" stroke="none" stroke-width="0" shape-rendering="geometricPrecision"/>
<polygon points="88.00,254.00 83.00,269.00 93.00,269.00" fill="#000" stroke="none" stroke-width="0" shape-rendering="geometricPrecision"/>
<text transform="translate(94.5,209) rotate(-90)" x="0" y="0" font-size="24" fill="#000" letter-spacing="0.4">1,4-2</text>
<line x1="113" y1="289" x2="222" y2="289" stroke="#000" stroke-width="2" />
<polygon points="146.00,289.00 131.00,284.00 131.00,294.00" fill="#000" stroke="none" stroke-width="0" shape-rendering="geometricPrecision"/>
<polygon points="192.00,289.00 207.00,284.00 207.00,294.00" fill="#000" stroke="none" stroke-width="0" shape-rendering="geometricPrecision"/>
<line x1="147" y1="283" x2="147" y2="294" stroke="#000" stroke-width="2" />
<text x="151.5" y="315" font-size="24" text-anchor="start" font-weight="normal" fill="#000" letter-spacing="1.2" >3,9</text>
<defs><linearGradient id="pinG" x1="0" x2="1" y1="0" y2="0"><stop offset="0" stop-color="#848484"/><stop offset="0.25" stop-color="#c4c4c4"/><stop offset="0.55" stop-color="#dcdcdc"/><stop offset="1" stop-color="#a8a8a8"/></linearGradient><linearGradient id="blkG" x1="0" x2="0" y1="0" y2="1"><stop offset="0" stop-color="#4a4a4a"/><stop offset="0.1" stop-color="#383838"/><stop offset="0.85" stop-color="#323232"/><stop offset="1" stop-color="#282828"/></linearGradient><linearGradient id="lpG" x1="0" x2="0" y1="0" y2="1"><stop offset="0" stop-color="#dcdcdc"/><stop offset="0.32" stop-color="#c0c0c0"/><stop offset="0.46" stop-color="#5a5a5a"/><stop offset="1" stop-color="#4c4c4c"/></linearGradient><linearGradient id="lpO" x1="0" x2="0" y1="0" y2="1"><stop offset="0" stop-color="#9a9a9a"/><stop offset="0.35" stop-color="#a8a8a8"/><stop offset="0.5" stop-color="#8a8a8a"/><stop offset="1" stop-color="#909090"/></linearGradient><clipPath id="phc"><rect x="300" y="400" width="413" height="300"/></clipPath><filter id="soft" x="0" y="0" width="1" height="1"><feGaussianBlur stdDeviation="0.6"/></filter></defs>
<g clip-path="url(#phc)" shape-rendering="geometricPrecision"><g filter="url(#soft)"><path d="M310.9,512.9 L310.9,522.9 Q310.9,526.9 308.4,529.9 L290.1,554.9" fill="none" stroke="url(#lpO)" stroke-width="9"/><path d="M310.9,512.9 L310.9,522.9 Q310.9,526.9 308.4,529.9 L290.1,554.9" fill="none" stroke="url(#lpG)" stroke-width="6.6"/><line x1="301.1" y1="534.1" x2="287.8" y2="552.2" stroke="#c8c8c8" stroke-width="1.3"/><path d="M340.8,521.1 L340.8,531.1 Q340.8,535.1 338.2,538.1 L319.7,562.9" fill="none" stroke="url(#lpO)" stroke-width="9"/><path d="M340.8,521.1 L340.8,531.1 Q340.8,535.1 338.2,538.1 L319.7,562.9" fill="none" stroke="url(#lpG)" stroke-width="6.6"/><line x1="330.9" y1="542.3" x2="317.4" y2="560.2" stroke="#c8c8c8" stroke-width="1.3"/><path d="M370.0,528.1 L370.0,538.1 Q370.0,542.1 367.5,545.1 L348.7,569.6" fill="none" stroke="url(#lpO)" stroke-width="9"/><path d="M370.0,528.1 L370.0,538.1 Q370.0,542.1 367.5,545.1 L348.7,569.6" fill="none" stroke="url(#lpG)" stroke-width="6.6"/><line x1="360.1" y1="549.2" x2="346.5" y2="566.9" stroke="#c8c8c8" stroke-width="1.3"/><path d="M398.7,536.7 L398.7,546.7 Q398.7,550.7 396.2,553.7 L377.1,577.8" fill="none" stroke="url(#lpO)" stroke-width="9"/><path d="M398.7,536.7 L398.7,546.7 Q398.7,550.7 396.2,553.7 L377.1,577.8" fill="none" stroke="url(#lpG)" stroke-width="6.6"/><line x1="388.8" y1="557.6" x2="375.0" y2="575.1" stroke="#c8c8c8" stroke-width="1.3"/><path d="M428.1,543.5 L428.1,553.5 Q428.1,557.5 425.6,560.5 L406.2,584.4" fill="none" stroke="url(#lpO)" stroke-width="9"/><path d="M428.1,543.5 L428.1,553.5 Q428.1,557.5 425.6,560.5 L406.2,584.4" fill="none" stroke="url(#lpG)" stroke-width="6.6"/><line x1="418.1" y1="564.3" x2="404.1" y2="581.6" stroke="#c8c8c8" stroke-width="1.3"/><path d="M456.6,552.0 L456.6,562.0 Q456.6,566.0 454.1,569.0 L434.4,592.6" fill="none" stroke="url(#lpO)" stroke-width="9"/><path d="M456.6,552.0 L456.6,562.0 Q456.6,566.0 454.1,569.0 L434.4,592.6" fill="none" stroke="url(#lpG)" stroke-width="6.6"/><line x1="446.5" y1="572.7" x2="432.3" y2="589.9" stroke="#c8c8c8" stroke-width="1.3"/><path d="M484.7,559.6 L484.7,569.6 Q484.7,573.6 482.2,576.6 L462.3,600.0" fill="none" stroke="url(#lpO)" stroke-width="9"/><path d="M484.7,559.6 L484.7,569.6 Q484.7,573.6 482.2,576.6 L462.3,600.0" fill="none" stroke="url(#lpG)" stroke-width="6.6"/><line x1="474.6" y1="580.3" x2="460.2" y2="597.2" stroke="#c8c8c8" stroke-width="1.3"/><path d="M513.1,567.6 L513.1,577.6 Q513.1,581.6 510.6,584.6 L490.5,607.8" fill="none" stroke="url(#lpO)" stroke-width="9"/><path d="M513.1,567.6 L513.1,577.6 Q513.1,581.6 510.6,584.6 L490.5,607.8" fill="none" stroke="url(#lpG)" stroke-width="6.6"/><line x1="503.0" y1="588.2" x2="488.4" y2="604.9" stroke="#c8c8c8" stroke-width="1.3"/><path d="M540.6,575.2 L540.6,585.2 Q540.6,589.2 538.1,592.2 L517.6,615.0" fill="none" stroke="url(#lpO)" stroke-width="9"/><path d="M540.6,575.2 L540.6,585.2 Q540.6,589.2 538.1,592.2 L517.6,615.0" fill="none" stroke="url(#lpG)" stroke-width="6.6"/><line x1="530.5" y1="595.6" x2="515.6" y2="612.1" stroke="#c8c8c8" stroke-width="1.3"/><path d="M569.1,583.2 L569.1,593.2 Q569.1,597.2 566.6,600.2 L545.8,622.8" fill="none" stroke="url(#lpO)" stroke-width="9"/><path d="M569.1,583.2 L569.1,593.2 Q569.1,597.2 566.6,600.2 L545.8,622.8" fill="none" stroke="url(#lpG)" stroke-width="6.6"/><line x1="558.9" y1="603.5" x2="543.9" y2="619.9" stroke="#c8c8c8" stroke-width="1.3"/><path d="M596.3,590.4 L596.3,600.4 Q596.3,604.4 593.8,607.4 L572.8,629.7" fill="none" stroke="url(#lpO)" stroke-width="9"/><path d="M596.3,590.4 L596.3,600.4 Q596.3,604.4 593.8,607.4 L572.8,629.7" fill="none" stroke="url(#lpG)" stroke-width="6.6"/><line x1="586.1" y1="610.6" x2="570.9" y2="626.8" stroke="#c8c8c8" stroke-width="1.3"/><path d="M624.8,599.3 L624.8,609.3 Q624.8,613.3 622.2,616.3 L601.0,638.4" fill="none" stroke="url(#lpO)" stroke-width="9"/><path d="M624.8,599.3 L624.8,609.3 Q624.8,613.3 622.2,616.3 L601.0,638.4" fill="none" stroke="url(#lpG)" stroke-width="6.6"/><line x1="614.5" y1="619.5" x2="599.1" y2="635.4" stroke="#c8c8c8" stroke-width="1.3"/><path d="M651.4,606.2 L651.4,616.2 Q651.4,620.2 648.9,623.2 L627.4,645.0" fill="none" stroke="url(#lpO)" stroke-width="9"/><path d="M651.4,606.2 L651.4,616.2 Q651.4,620.2 648.9,623.2 L627.4,645.0" fill="none" stroke="url(#lpG)" stroke-width="6.6"/><line x1="641.1" y1="626.3" x2="625.5" y2="642.0" stroke="#c8c8c8" stroke-width="1.3"/><path d="M678.4,613.2 L678.4,623.2 Q678.4,627.2 675.9,630.2 L654.0,651.6" fill="none" stroke="url(#lpO)" stroke-width="9"/><path d="M678.4,613.2 L678.4,623.2 Q678.4,627.2 675.9,630.2 L654.0,651.6" fill="none" stroke="url(#lpG)" stroke-width="6.6"/><line x1="668.0" y1="633.1" x2="652.2" y2="648.7" stroke="#c8c8c8" stroke-width="1.3"/><path d="M706.5,620.9 L706.5,630.9 Q706.5,634.9 704.0,637.9 L681.9,659.1" fill="none" stroke="url(#lpO)" stroke-width="9"/><path d="M706.5,620.9 L706.5,630.9 Q706.5,634.9 704.0,637.9 L681.9,659.1" fill="none" stroke="url(#lpG)" stroke-width="6.6"/><line x1="696.1" y1="640.7" x2="680.1" y2="656.1" stroke="#c8c8c8" stroke-width="1.3"/><path d="M734.0,628.6 L734.0,638.6 Q734.0,642.6 731.5,645.6 L709.1,666.5" fill="none" stroke="url(#lpO)" stroke-width="9"/><path d="M734.0,628.6 L734.0,638.6 Q734.0,642.6 731.5,645.6 L709.1,666.5" fill="none" stroke="url(#lpG)" stroke-width="6.6"/><line x1="723.5" y1="648.4" x2="707.4" y2="663.5" stroke="#c8c8c8" stroke-width="1.3"/><rect x="308.7" y="427.4" width="10.5" height="53.8" rx="5" ry="5" fill="url(#pinG)"/><rect x="338.0" y="436.0" width="10.5" height="53.7" rx="5" ry="5" fill="url(#pinG)"/><rect x="366.7" y="443.4" width="10.5" height="53.7" rx="5" ry="5" fill="url(#pinG)"/><rect x="394.9" y="452.3" width="10.5" height="53.6" rx="5" ry="5" fill="url(#pinG)"/><rect x="423.7" y="459.5" width="10.5" height="53.5" rx="5" ry="5" fill="url(#pinG)"/><rect x="451.6" y="468.4" width="10.5" height="53.4" rx="5" ry="5" fill="url(#pinG)"/><rect x="479.2" y="476.4" width="10.5" height="53.4" rx="5" ry="5" fill="url(#pinG)"/><rect x="507.1" y="484.8" width="10.5" height="53.3" rx="5" ry="5" fill="url(#pinG)"/><rect x="534.0" y="492.7" width="10.5" height="53.2" rx="5" ry="5" fill="url(#pinG)"/><rect x="561.9" y="501.1" width="10.5" height="53.2" rx="5" ry="5" fill="url(#pinG)"/><rect x="588.6" y="508.7" width="10.5" height="53.1" rx="5" ry="5" fill="url(#pinG)"/><rect x="616.5" y="518.0" width="10.5" height="53.0" rx="5" ry="5" fill="url(#pinG)"/><rect x="642.6" y="525.3" width="10.5" height="53.0" rx="5" ry="5" fill="url(#pinG)"/><rect x="669.0" y="532.6" width="10.5" height="52.9" rx="5" ry="5" fill="url(#pinG)"/><rect x="696.6" y="540.7" width="10.5" height="52.8" rx="5" ry="5" fill="url(#pinG)"/><rect x="723.5" y="548.8" width="10.5" height="52.8" rx="5" ry="5" fill="url(#pinG)"/><polygon points="318.2,494.4 325.4,502.9 325.4,513.0 318.2,513.0" fill="#1e1e1e"/><polygon points="294.7,492.4 319.2,492.4 319.2,517.4 316.7,519.9 297.2,519.9 294.7,517.4" fill="#1c1c1c"/><rect x="307.4" y="512.9" width="7" height="7.5" fill="#d8d8d8"/><polygon points="327.2,483.2 331.5,488.7 331.5,510.9 327.2,502.4" fill="#262626"/><line x1="329.4" y1="489.7" x2="329.4" y2="507.9" stroke="#3c3c3c" stroke-width="1"/><polygon points="347.8,502.9 354.5,510.3 354.5,520.4 347.8,520.4" fill="#1e1e1e"/><polygon points="324.4,500.9 348.8,500.9 348.8,525.6 346.2,528.1 326.9,528.1 324.4,525.6" fill="#1c1c1c"/><rect x="337.2" y="521.1" width="7" height="7.5" fill="#d8d8d8"/><polygon points="356.7,491.7 360.7,496.1 360.7,518.3 356.7,510.9" fill="#262626"/><line x1="358.7" y1="497.1" x2="358.7" y2="515.3" stroke="#3c3c3c" stroke-width="1"/><polygon points="376.7,510.3 383.1,519.1 383.1,529.3 376.7,529.3" fill="#1e1e1e"/><polygon points="353.5,508.3 377.7,508.3 377.7,532.6 375.2,535.1 356.0,535.1 353.5,532.6" fill="#1c1c1c"/><rect x="366.5" y="528.1" width="7" height="7.5" fill="#d8d8d8"/><polygon points="385.6,499.1 389.4,504.9 389.4,527.1 385.6,518.3" fill="#262626"/><line x1="387.5" y1="505.9" x2="387.5" y2="524.1" stroke="#3c3c3c" stroke-width="1"/><polygon points="405.1,519.1 412.3,526.3 412.3,536.5 405.1,536.5" fill="#1e1e1e"/><polygon points="382.1,517.1 406.1,517.1 406.1,541.2 403.6,543.7 384.6,543.7 382.1,541.2" fill="#1c1c1c"/><rect x="395.2" y="536.7" width="7" height="7.5" fill="#d8d8d8"/><polygon points="414.0,507.9 418.7,512.0 418.7,534.3 414.0,527.1" fill="#262626"/><line x1="416.4" y1="513.0" x2="416.4" y2="531.3" stroke="#3c3c3c" stroke-width="1"/><polygon points="434.2,526.3 440.6,535.1 440.6,545.4 434.2,545.4" fill="#1e1e1e"/><polygon points="411.3,524.3 435.2,524.3 435.2,548.0 432.7,550.5 413.8,550.5 411.3,548.0" fill="#1c1c1c"/><rect x="424.6" y="543.5" width="7" height="7.5" fill="#d8d8d8"/><polygon points="443.0,515.0 447.1,520.8 447.1,543.1 443.0,534.3" fill="#262626"/><line x1="445.1" y1="521.8" x2="445.1" y2="540.1" stroke="#3c3c3c" stroke-width="1"/><polygon points="462.4,535.1 468.6,543.1 468.6,553.4 462.4,553.4" fill="#1e1e1e"/><polygon points="439.6,533.1 463.4,533.1 463.4,556.5 460.9,559.0 442.1,559.0 439.6,556.5" fill="#1c1c1c"/><rect x="453.1" y="552.0" width="7" height="7.5" fill="#d8d8d8"/><polygon points="471.1,523.8 475.2,528.8 475.2,551.1 471.1,543.1" fill="#262626"/><line x1="473.1" y1="529.8" x2="473.1" y2="548.1" stroke="#3c3c3c" stroke-width="1"/><polygon points="490.2,543.1 496.9,551.4 496.9,561.8 490.2,561.8" fill="#1e1e1e"/><polygon points="467.6,541.1 491.2,541.1 491.2,564.1 488.7,566.6 470.1,566.6 467.6,564.1" fill="#1c1c1c"/><rect x="481.2" y="559.6" width="7" height="7.5" fill="#d8d8d8"/><polygon points="498.9,531.8 503.6,537.1 503.6,559.4 498.9,551.1" fill="#262626"/><line x1="501.2" y1="538.1" x2="501.2" y2="556.4" stroke="#3c3c3c" stroke-width="1"/><polygon points="518.4,551.4 524.2,559.3 524.2,569.7 518.4,569.7" fill="#1e1e1e"/><polygon points="495.9,549.4 519.4,549.4 519.4,572.1 516.9,574.6 498.4,574.6 495.9,572.1" fill="#1c1c1c"/><rect x="509.6" y="567.6" width="7" height="7.5" fill="#d8d8d8"/><polygon points="527.0,540.1 531.0,544.9 531.0,567.3 527.0,559.4" fill="#262626"/><line x1="529.0" y1="545.9" x2="529.0" y2="564.3" stroke="#3c3c3c" stroke-width="1"/><polygon points="545.5,559.3 552.5,567.6 552.5,578.1 545.5,578.1" fill="#1e1e1e"/><polygon points="523.2,557.3 546.5,557.3 546.5,579.7 544.0,582.2 525.7,582.2 523.2,579.7" fill="#1c1c1c"/><rect x="537.1" y="575.2" width="7" height="7.5" fill="#d8d8d8"/><polygon points="554.1,547.9 559.4,553.3 559.4,575.6 554.1,567.3" fill="#262626"/><line x1="556.8" y1="554.3" x2="556.8" y2="572.6" stroke="#3c3c3c" stroke-width="1"/><polygon points="573.6,567.6 579.6,575.2 579.6,585.7 573.6,585.7" fill="#1e1e1e"/><polygon points="551.5,565.6 574.6,565.6 574.6,587.7 572.1,590.2 554.0,590.2 551.5,587.7" fill="#1c1c1c"/><rect x="565.6" y="583.2" width="7" height="7.5" fill="#d8d8d8"/><polygon points="582.2,556.3 586.6,560.8 586.6,583.2 582.2,575.6" fill="#262626"/><line x1="584.4" y1="561.8" x2="584.4" y2="580.2" stroke="#3c3c3c" stroke-width="1"/><polygon points="600.6,575.2 607.9,584.5 607.9,595.0 600.6,595.0" fill="#1e1e1e"/><polygon points="578.6,573.2 601.6,573.2 601.6,594.9 599.1,597.4 581.1,597.4 578.6,594.9" fill="#1c1c1c"/><rect x="592.8" y="590.4" width="7" height="7.5" fill="#d8d8d8"/><polygon points="609.1,563.8 615.0,570.0 615.0,592.5 609.1,583.2" fill="#262626"/><line x1="612.0" y1="571.0" x2="612.0" y2="589.5" stroke="#3c3c3c" stroke-width="1"/><polygon points="628.8,584.5 634.4,591.7 634.4,602.3 628.8,602.3" fill="#1e1e1e"/><polygon points="606.9,582.5 629.8,582.5 629.8,603.8 627.2,606.3 609.4,606.3 606.9,603.8" fill="#1c1c1c"/><rect x="621.2" y="599.3" width="7" height="7.5" fill="#d8d8d8"/><polygon points="637.2,573.0 641.6,577.3 641.6,599.7 637.2,592.5" fill="#262626"/><line x1="639.4" y1="578.3" x2="639.4" y2="596.7" stroke="#3c3c3c" stroke-width="1"/><polygon points="655.1,591.7 661.2,599.0 661.2,609.6 655.1,609.6" fill="#1e1e1e"/><polygon points="633.4,589.7 656.1,589.7 656.1,610.7 653.6,613.2 635.9,613.2 633.4,610.7" fill="#1c1c1c"/><rect x="647.9" y="606.2" width="7" height="7.5" fill="#d8d8d8"/><polygon points="663.5,580.3 668.5,584.5 668.5,607.0 663.5,599.7" fill="#262626"/><line x1="666.0" y1="585.5" x2="666.0" y2="604.0" stroke="#3c3c3c" stroke-width="1"/><polygon points="681.8,599.0 689.2,607.0 689.2,617.7 681.8,617.7" fill="#1e1e1e"/><polygon points="660.2,597.0 682.8,597.0 682.8,617.7 680.2,620.2 662.7,620.2 660.2,617.7" fill="#1c1c1c"/><rect x="674.9" y="613.2" width="7" height="7.5" fill="#d8d8d8"/><polygon points="690.1,587.5 696.6,592.5 696.6,615.0 690.1,607.0" fill="#262626"/><line x1="693.4" y1="593.5" x2="693.4" y2="612.0" stroke="#3c3c3c" stroke-width="1"/><polygon points="709.6,607.0 716.5,615.0 716.5,625.8 709.6,625.8" fill="#1e1e1e"/><polygon points="688.2,605.0 710.6,605.0 710.6,625.4 708.1,627.9 690.7,627.9 688.2,625.4" fill="#1c1c1c"/><rect x="703.0" y="620.9" width="7" height="7.5" fill="#d8d8d8"/><polygon points="717.9,595.5 724.0,600.5 724.0,623.0 717.9,615.0" fill="#262626"/><line x1="721.0" y1="601.5" x2="721.0" y2="620.0" stroke="#3c3c3c" stroke-width="1"/><polygon points="715.5,613.0 737.8,613.0 737.8,633.1 735.2,635.6 718.0,635.6 715.5,633.1" fill="#1c1c1c"/><rect x="730.5" y="628.6" width="7" height="7.5" fill="#d8d8d8"/><path d="M300.7,481.2 Q300.7,477.2 304.7,477.2 L324.2,479.7 Q328.2,479.7 328.2,483.7 L328.2,505.4 L300.7,502.4 Z" fill="url(#blkG)" stroke="#2a2a2a" stroke-width="1.2"/><path d="M330.5,489.7 Q330.5,485.7 334.5,485.7 L353.7,488.2 Q357.7,488.2 357.7,492.2 L357.7,514.0 L330.5,510.9 Z" fill="url(#blkG)" stroke="#2a2a2a" stroke-width="1.2"/><path d="M359.7,497.1 Q359.7,493.1 363.7,493.1 L382.6,495.6 Q386.6,495.6 386.6,499.6 L386.6,521.3 L359.7,518.3 Z" fill="url(#blkG)" stroke="#2a2a2a" stroke-width="1.2"/><path d="M388.4,505.9 Q388.4,501.9 392.4,501.9 L411.0,504.4 Q415.0,504.4 415.0,508.4 L415.0,530.1 L388.4,527.1 Z" fill="url(#blkG)" stroke="#2a2a2a" stroke-width="1.2"/><path d="M417.7,513.0 Q417.7,509.0 421.7,509.0 L440.0,511.5 Q444.0,511.5 444.0,515.5 L444.0,537.3 L417.7,534.3 Z" fill="url(#blkG)" stroke="#2a2a2a" stroke-width="1.2"/><path d="M446.1,521.8 Q446.1,517.8 450.1,517.8 L468.1,520.3 Q472.1,520.3 472.1,524.3 L472.1,546.1 L446.1,543.1 Z" fill="url(#blkG)" stroke="#2a2a2a" stroke-width="1.2"/><path d="M474.2,529.8 Q474.2,525.8 478.2,525.8 L495.9,528.3 Q499.9,528.3 499.9,532.3 L499.9,554.1 L474.2,551.1 Z" fill="url(#blkG)" stroke="#2a2a2a" stroke-width="1.2"/><path d="M502.6,538.1 Q502.6,534.1 506.6,534.1 L524.0,536.6 Q528.0,536.6 528.0,540.6 L528.0,562.4 L502.6,559.4 Z" fill="url(#blkG)" stroke="#2a2a2a" stroke-width="1.2"/><path d="M530.0,545.9 Q530.0,541.9 534.0,541.9 L551.1,544.4 Q555.1,544.4 555.1,548.4 L555.1,570.3 L530.0,567.3 Z" fill="url(#blkG)" stroke="#2a2a2a" stroke-width="1.2"/><path d="M558.4,554.3 Q558.4,550.3 562.4,550.3 L579.2,552.8 Q583.2,552.8 583.2,556.8 L583.2,578.6 L558.4,575.6 Z" fill="url(#blkG)" stroke="#2a2a2a" stroke-width="1.2"/><path d="M585.6,561.8 Q585.6,557.8 589.6,557.8 L606.1,560.3 Q610.1,560.3 610.1,564.3 L610.1,586.2 L585.6,583.2 Z" fill="url(#blkG)" stroke="#2a2a2a" stroke-width="1.2"/><path d="M614.0,571.0 Q614.0,567.0 618.0,567.0 L634.2,569.5 Q638.2,569.5 638.2,573.5 L638.2,595.5 L614.0,592.5 Z" fill="url(#blkG)" stroke="#2a2a2a" stroke-width="1.2"/><path d="M640.6,578.3 Q640.6,574.3 644.6,574.3 L660.5,576.8 Q664.5,576.8 664.5,580.8 L664.5,602.7 L640.6,599.7 Z" fill="url(#blkG)" stroke="#2a2a2a" stroke-width="1.2"/><path d="M667.5,585.5 Q667.5,581.5 671.5,581.5 L687.1,584.0 Q691.1,584.0 691.1,588.0 L691.1,610.0 L667.5,607.0 Z" fill="url(#blkG)" stroke="#2a2a2a" stroke-width="1.2"/><path d="M695.6,593.5 Q695.6,589.5 699.6,589.5 L714.9,592.0 Q718.9,592.0 718.9,596.0 L718.9,618.0 L695.6,615.0 Z" fill="url(#blkG)" stroke="#2a2a2a" stroke-width="1.2"/><path d="M723.0,601.5 Q723.0,597.5 727.0,597.5 L742.0,600.0 Q746.0,600.0 746.0,604.0 L746.0,626.0 L723.0,623.0 Z" fill="url(#blkG)" stroke="#2a2a2a" stroke-width="1.2"/></g></g>
</svg>
<div class="t" style="top:420px">A = 14,7mm<br>B = 6,9mm<br>C = 3,3mm</div>
</body></html>
